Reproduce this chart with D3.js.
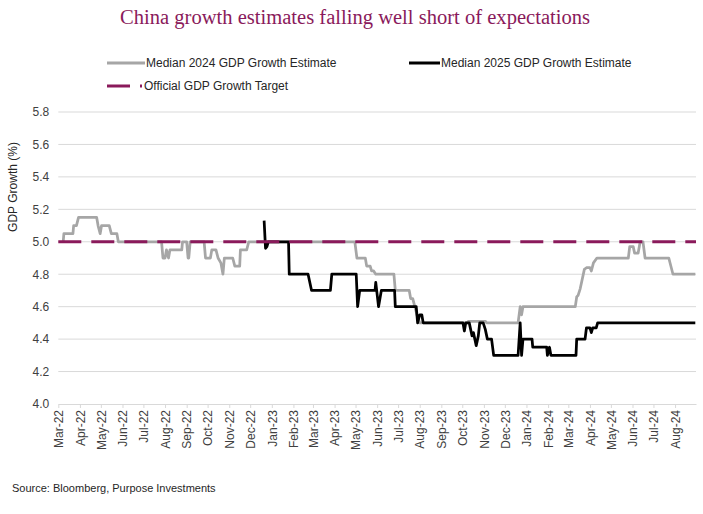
<!DOCTYPE html>
<html><head><meta charset="utf-8">
<script src="https://cdn.jsdelivr.net/npm/d3@7"></script>
<style>body{margin:0;background:#fff}svg{display:block}</style>
</head><body>
<svg id="chart" width="703" height="514"></svg>
<script>
// ---------------- DATA ----------------
const title = "China growth estimates falling well short of expectations";
const yLabel = "GDP Growth (%)";
const source = "Source: Bloomberg, Purpose Investments";
const seriesNames = ["Median 2024 GDP Growth Estimate", "Median 2025 GDP Growth Estimate", "Official GDP Growth Target"];
const targetValue = 5.0;
const yTicks = [4.0, 4.2, 4.4, 4.6, 4.8, 5.0, 5.2, 5.4, 5.6, 5.8];
const xDomain = ["2022-03-01", "2024-08-31"];
const xTickMonths = ["2022-03-01","2022-04-01","2022-05-01","2022-06-01","2022-07-01","2022-08-01","2022-09-01","2022-10-01","2022-11-01","2022-12-01",
  "2023-01-01","2023-02-01","2023-03-01","2023-04-01","2023-05-01","2023-06-01","2023-07-01","2023-08-01","2023-09-01","2023-10-01","2023-11-01","2023-12-01",
  "2024-01-01","2024-02-01","2024-03-01","2024-04-01","2024-05-01","2024-06-01","2024-07-01","2024-08-01"];

const est2024Dates = ["2022-03-08","2022-03-09","2022-03-22","2022-03-23","2022-03-27","2022-03-30","2022-04-25","2022-04-27","2022-04-30","2022-05-02",
  "2022-05-13","2022-05-16","2022-05-24","2022-05-26","2022-07-27","2022-07-29","2022-08-01","2022-08-03","2022-08-06","2022-08-08",
  "2022-08-25","2022-08-26","2022-09-01","2022-09-03","2022-09-04","2022-09-06","2022-09-26","2022-09-28","2022-10-05","2022-10-07",
  "2022-10-13","2022-10-16","2022-10-20","2022-10-23","2022-10-25","2022-11-06","2022-11-09","2022-11-16","2022-11-17","2022-11-26",
  "2022-11-29","2023-04-30","2023-05-03","2023-05-15","2023-05-17","2023-05-22","2023-05-24","2023-05-27","2023-05-30","2023-06-25",
  "2023-06-27","2023-07-17","2023-07-19","2023-07-22","2023-07-25","2023-07-28","2023-08-01","2023-10-08","2023-10-10","2023-11-03",
  "2023-11-05","2023-12-20","2023-12-23","2023-12-25","2023-12-27","2024-03-11","2024-03-13","2024-03-15","2024-03-18","2024-03-24",
  "2024-03-27","2024-04-01","2024-04-03","2024-04-06","2024-04-11","2024-05-26","2024-05-28","2024-06-02","2024-06-04","2024-06-09",
  "2024-06-12","2024-06-16","2024-06-19","2024-07-23","2024-07-29","2024-08-30"];
const est2024Values = [5.0,5.05,5.05,5.1,5.1,5.15,5.15,5.1,5.05,5.1,
  5.1,5.05,5.05,5.0,5.0,4.9,4.9,4.95,4.9,4.95,
  4.95,5.0,5.0,4.9,4.9,5.0,5.0,4.9,4.9,4.95,
  4.95,4.9,4.87,4.8,4.9,4.9,4.85,4.85,4.95,4.95,
  5.0,5.0,4.9,4.9,4.85,4.85,4.82,4.82,4.8,4.8,
  4.7,4.7,4.65,4.65,4.6,4.55,4.5,4.5,4.51,4.51,
  4.5,4.5,4.6,4.55,4.6,4.6,4.66,4.67,4.71,4.83,
  4.84,4.84,4.82,4.87,4.9,4.9,4.97,4.97,4.93,4.93,
  5.0,5.0,4.9,4.9,4.8,4.8];

const est2025Dates = ["2022-12-21","2022-12-23","2022-12-25","2022-12-27","2023-01-25","2023-01-26","2023-02-22","2023-02-27","2023-03-26","2023-03-28",
  "2023-05-02","2023-05-04","2023-05-07","2023-05-29","2023-05-30","2023-06-03","2023-06-07","2023-06-26","2023-06-27","2023-07-27",
  "2023-07-29","2023-08-01","2023-08-04","2023-08-06","2023-10-02","2023-10-04","2023-10-06","2023-10-11","2023-10-15","2023-10-17",
  "2023-10-21","2023-10-24","2023-10-26","2023-10-31","2023-11-03","2023-11-06","2023-11-12","2023-11-15","2023-12-20","2023-12-23",
  "2023-12-25","2023-12-27","2024-01-09","2024-01-10","2024-01-30","2024-01-31","2024-02-03","2024-02-05","2024-03-12","2024-03-13",
  "2024-03-25","2024-03-27","2024-04-01","2024-04-03","2024-04-05","2024-04-10","2024-04-12","2024-08-30"];
const est2025Values = [5.13,4.96,4.97,5.0,5.0,4.8,4.8,4.7,4.7,4.8,
  4.8,4.6,4.7,4.7,4.75,4.6,4.7,4.7,4.6,4.6,
  4.5,4.55,4.55,4.5,4.5,4.45,4.5,4.5,4.42,4.44,
  4.36,4.42,4.5,4.5,4.46,4.4,4.4,4.3,4.3,4.5,
  4.3,4.4,4.4,4.35,4.35,4.3,4.35,4.3,4.3,4.4,
  4.4,4.47,4.47,4.44,4.47,4.47,4.5,4.5];

// ---------------- CHART ----------------
const colors = {est2024: "#A6A6A6", est2025: "#000000", target: "#8A1A5B", grid: "#D9D9D9", text: "#404040", title: "#8A1A5B"};
const parse = d3.timeParse("%Y-%m-%d");
const svg = d3.select("#chart");
const plot = {left: 58.3, right: 696, top: 112, bottom: 404};

const x = d3.scaleTime().domain(xDomain.map(parse)).range([plot.left, plot.right]);
const y = d3.scaleLinear().domain([4.0, 5.8]).range([plot.bottom, plot.top]);

// Title
svg.append("text").attr("x", 355).attr("y", 24).attr("text-anchor", "middle")
  .attr("font-family", "'Liberation Serif','DejaVu Serif',serif").attr("font-size", 20)
  .attr("textLength", 470).attr("lengthAdjust", "spacingAndGlyphs")
  .attr("fill", colors.title).text(title);

// Legend
const legendFont = "'Liberation Sans',Arial,sans-serif";
const leg = svg.append("g");
leg.append("line").attr("x1", 107).attr("x2", 145).attr("y1", 63).attr("y2", 63).attr("stroke", colors.est2024).attr("stroke-width", 3);
leg.append("text").attr("x", 146).attr("y", 63).attr("dy", "0.35em").attr("font-family", legendFont).attr("font-size", 12).attr("fill", "#262626").text(seriesNames[0]);
leg.append("line").attr("x1", 409).attr("x2", 440).attr("y1", 63).attr("y2", 63).attr("stroke", colors.est2025).attr("stroke-width", 3);
leg.append("text").attr("x", 441).attr("y", 63).attr("dy", "0.35em").attr("font-family", legendFont).attr("font-size", 12).attr("fill", "#262626").text(seriesNames[1]);
leg.append("line").attr("x1", 107).attr("x2", 142).attr("y1", 86).attr("y2", 86).attr("stroke", colors.target).attr("stroke-width", 3).attr("stroke-dasharray", "23,10");
leg.append("text").attr("x", 144).attr("y", 86).attr("dy", "0.35em").attr("font-family", legendFont).attr("font-size", 12).attr("fill", "#262626").text(seriesNames[2]);

// Grid
svg.append("g").selectAll("line").data(yTicks.filter(t => t > 4.0)).join("line")
  .attr("x1", plot.left).attr("x2", plot.right)
  .attr("y1", d => y(d)).attr("y2", d => y(d))
  .attr("stroke", colors.grid).attr("stroke-width", 1);

// Y axis labels
const yAxis = svg.append("g").attr("transform", `translate(${plot.left},0)`)
  .call(d3.axisLeft(y).tickValues(yTicks).tickFormat(d3.format(".1f")).tickSize(0).tickPadding(9));
yAxis.select(".domain").remove();
yAxis.selectAll("text").attr("font-family", legendFont).attr("font-size", 12).attr("fill", colors.text);

// Y title
svg.append("text").attr("transform", "translate(17,187) rotate(-90)").attr("text-anchor", "middle")
  .attr("font-family", legendFont).attr("font-size", 12).attr("fill", "#262626").text(yLabel);

// X axis
const xAxis = svg.append("g").attr("transform", `translate(0,${plot.bottom})`)
  .call(d3.axisBottom(x).tickValues(xTickMonths.map(parse)).tickSize(4).tickSizeOuter(0).tickFormat(d3.timeFormat("%b-%y")));
xAxis.select(".domain").attr("stroke", colors.grid);
xAxis.selectAll(".tick line").attr("stroke", colors.grid);
xAxis.selectAll(".tick text")
  .attr("font-family", legendFont).attr("font-size", 12).attr("fill", colors.text)
  .attr("text-anchor", "end").attr("transform", "rotate(-90)")
  .attr("x", -6).attr("y", 0).attr("dy", "0.35em");

// Lines
const line = d3.line().x(d => x(d[0])).y(d => y(d[1]));
const s2024 = est2024Dates.map((d, i) => [parse(d), est2024Values[i]]);
const s2025 = est2025Dates.map((d, i) => [parse(d), est2025Values[i]]);
svg.append("path").datum(s2024).attr("d", line).attr("fill", "none")
  .attr("stroke", colors.est2024).attr("stroke-width", 2.75).attr("stroke-linejoin", "round");
svg.append("path").datum(s2025).attr("d", line).attr("fill", "none")
  .attr("stroke", colors.est2025).attr("stroke-width", 2.75).attr("stroke-linejoin", "round");

// Target line
svg.append("line").attr("x1", x(parse(xDomain[0]))).attr("x2", x(parse(xDomain[1])))
  .attr("y1", y(targetValue)).attr("y2", y(targetValue))
  .attr("stroke", colors.target).attr("stroke-width", 3).attr("stroke-dasharray", "23,10");

// Source
svg.append("text").attr("x", 12).attr("y", 492).attr("font-family", legendFont).attr("font-size", 11)
  .attr("fill", "#262626").text(source);
</script>
</body></html>
